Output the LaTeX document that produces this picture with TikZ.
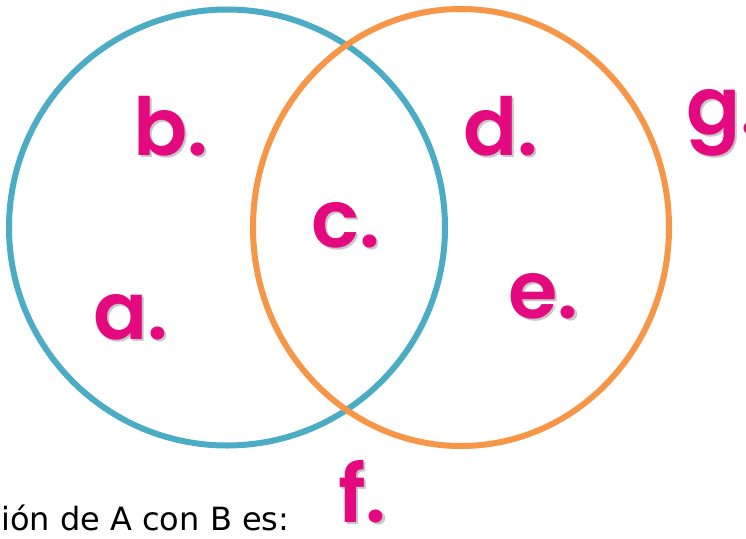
\documentclass[tikz,border=0pt]{standalone}
\usepackage{fontspec}
\newfontfamily\lblfont{Poppins SemiBold}
\newfontfamily\txtfont{DejaVu Sans}
\definecolor{blueC}{HTML}{4BACC6}
\definecolor{orangeC}{HTML}{F79646}
\definecolor{pinkC}{HTML}{E5097F}
\tikzset{
  lbl/.style={anchor=base west, inner sep=0pt, text=pinkC, font=\lblfont\fontsize{80}{80}\selectfont},
  ring/.style={line width=6pt}
}
\newcommand{\shadowed}[1]{%
  \makebox[0pt][l]{\hspace{2.5pt}\raisebox{-2.5pt}{\textcolor{black!22}{#1}}}#1}
\begin{document}
\begin{tikzpicture}[x=1pt,y=-1pt]
\useasboundingbox (0,0) rectangle (746,538);
\fill[white] (0,0) rectangle (746,538);
\draw[ring, blueC] (227,227.5) circle [radius=218pt];
\draw[ring, orangeC] (461,227.5) ellipse [x radius=208pt, y radius=218.5pt];
\node[lbl] (b) at (133,155) {\shadowed{b.}};
\node[lbl] (d) at (463,155) {\shadowed{d.}};
\node[lbl] (c) at (311,247) {\shadowed{c.}};
\node[lbl] (a) at (93,339) {\shadowed{a.}};
\node[lbl] (e) at (508,318) {\shadowed{e.}};
\node[lbl] (f) at (338,522) {\shadowed{f.}};
\node[lbl] (g) at (686,134) {\shadowed{g.}};
\node[anchor=base west, inner sep=0pt, font=\txtfont\fontsize{32}{32}\selectfont] (txt) at (1,530) {ión de A con B es:};
\end{tikzpicture}
\end{document}
